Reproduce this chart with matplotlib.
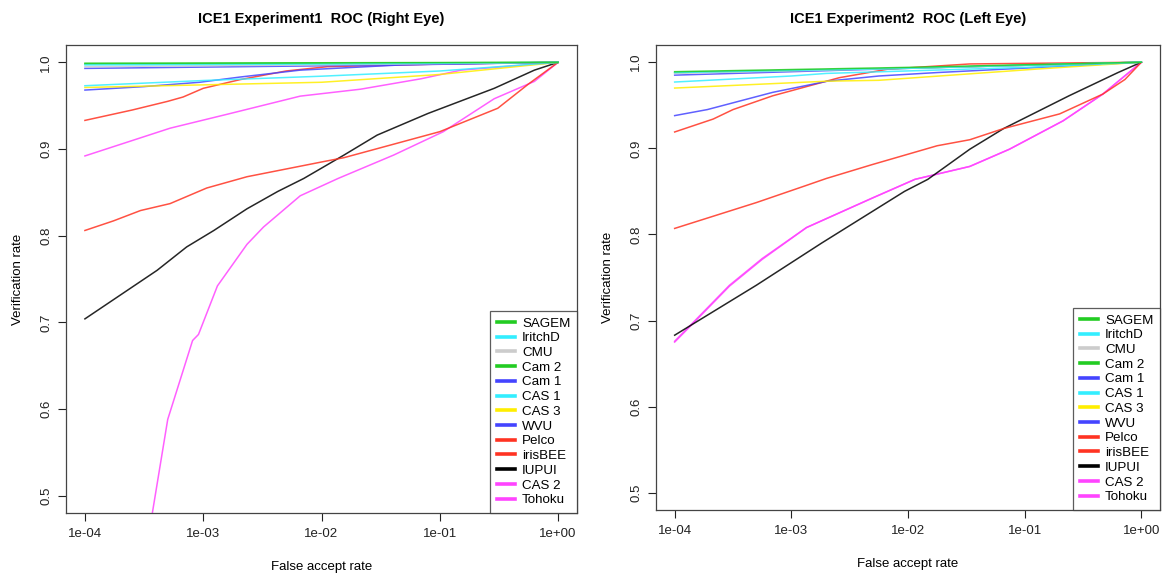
import numpy as np
import matplotlib
matplotlib.use("Agg")
import matplotlib.pyplot as plt
from matplotlib.lines import Line2D

plt.rcParams['font.family'] = ['Liberation Sans', 'DejaVu Sans']

names = ["SAGEM", "IritchD", "CMU", "Cam 2", "Cam 1", "CAS 1", "CAS 3", "WVU",
         "Pelco", "irisBEE", "IUPUI", "CAS 2", "Tohoku"]
colors = ["#22cc22", "#33eeff", "#cccccc", "#22cc22", "#4444ff", "#33eeff", "#ffee00",
          "#4444ff", "#ff3322", "#ff3322", "#000000", "#ff44ff", "#ff44ff"]

# Experiment 1 (Right Eye): log10(FAR) points and verification rates
exp1_logfar = {
    "SAGEM":   [-4, -2, 0],
    "IritchD": [-4, -2, 0],
    "CMU":     [-4, -2, 0],
    "Cam 2":   [-4, -2, 0],
    "Cam 1":   [-4, -2, 0],
    "CAS 1":   [-4, -3, -2, -1, 0],
    "CAS 3":   [-4, -3, -2, -1, 0],
    "WVU":     [-4, -3.5, -3.03, -2.69, -2.18, -1.33, 0],
    "Pelco":   [-4, -3.6, -3.3, -3.17, -3.0, -2.69, -2.3, -1.95, -1, 0],
    "irisBEE": [-4, -3.76, -3.53, -3.28, -2.97, -2.63, -2.0, -1.81, -1.0, -0.51, -0.25, 0],
    "IUPUI":   [-4, -3.39, -3.14, -2.91, -2.63, -2.37, -2.15, -1.81, -1.53, -1.10, -0.54, -0.20, 0],
    "CAS 2":   [-4, -3.28, -2.8, -2.18, -1.67, -1.16, -0.82, 0],
    "Tohoku":  [-4, -3.6, -3.43, -3.30, -3.09, -3.04, -2.88, -2.63, -2.49, -2.18, -1.86, -1.39,
                -0.97, -0.54, -0.20, 0],
}
exp1_vr = {
    "SAGEM":   [0.999, 0.9995, 1.0],
    "IritchD": [0.997, 0.998, 1.0],
    "CMU":     [0.995, 0.997, 1.0],
    "Cam 2":   [0.998, 0.999, 1.0],
    "Cam 1":   [0.993, 0.996, 1.0],
    "CAS 1":   [0.973, 0.979, 0.984, 0.990, 1.0],
    "CAS 3":   [0.971, 0.974, 0.977, 0.986, 1.0],
    "WVU":     [0.968, 0.972, 0.977, 0.983, 0.991, 0.997, 1.0],
    "Pelco":   [0.933, 0.945, 0.955, 0.960, 0.970, 0.980, 0.990, 0.995, 0.998, 1.0],
    "irisBEE": [0.806, 0.817, 0.829, 0.837, 0.855, 0.868, 0.885, 0.890, 0.920, 0.947, 0.975, 1.0],
    "IUPUI":   [0.704, 0.760, 0.787, 0.806, 0.831, 0.851, 0.866, 0.893, 0.916, 0.941, 0.970, 0.991, 1.0],
    "CAS 2":   [0.892, 0.924, 0.940, 0.961, 0.969, 0.981, 0.991, 1.0],
    "Tohoku":  [0.05, 0.33, 0.48, 0.588, 0.679, 0.686, 0.742, 0.790, 0.810, 0.846, 0.866, 0.893,
                0.920, 0.958, 0.978, 1.0],
}

# Experiment 2 (Left Eye)
exp2_logfar = {
    "SAGEM":   [-4, -2, 0],
    "IritchD": [-4, -2, 0],
    "CMU":     [-4, -2, 0],
    "Cam 2":   [-4, -2, 0],
    "Cam 1":   [-4, -2.25, 0],
    "CAS 1":   [-4, -3, -2.7, -1, 0],
    "CAS 3":   [-4, -2.69, -2.25, -0.9, 0],
    "WVU":     [-4, -3.72, -3.16, -2.69, -2.25, -1.75, 0],
    "Pelco":   [-4, -3.67, -3.5, -3.16, -2.59, -2.17, -1.47, 0],
    "irisBEE": [-4, -3.30, -2.87, -2.70, -2.31, -1.75, -1.47, -1.18, -0.70, -0.33, -0.14, 0],
    "IUPUI":   [-4, -3.30, -2.74, -2.03, -1.83, -1.47, -1.18, -0.62, -0.20, 0],
    "CAS 2":   [-4, -3.84, -3.53, -3.25, -2.87, -2.31, -1.94, -1.47, -1.13, -0.67, -0.33, 0],
    "Tohoku":  [-4, -3.84, -3.53, -3.25, -2.87, -2.31, -1.94, -1.47, -1.13, -0.67, -0.33, 0],
}
exp2_vr = {
    "SAGEM":   [0.989, 0.994, 1.0],
    "IritchD": [0.988, 0.993, 1.0],
    "CMU":     [0.987, 0.993, 1.0],
    "Cam 2":   [0.988, 0.993, 1.0],
    "Cam 1":   [0.985, 0.992, 1.0],
    "CAS 1":   [0.977, 0.984, 0.987, 0.994, 1.0],
    "CAS 3":   [0.970, 0.978, 0.979, 0.992, 1.0],
    "WVU":     [0.938, 0.945, 0.965, 0.978, 0.984, 0.988, 1.0],
    "Pelco":   [0.919, 0.934, 0.945, 0.961, 0.982, 0.992, 0.998, 1.0],
    "irisBEE": [0.807, 0.837, 0.857, 0.865, 0.881, 0.903, 0.910, 0.923, 0.940, 0.963, 0.980, 1.0],
    "IUPUI":   [0.683, 0.741, 0.790, 0.850, 0.864, 0.899, 0.923, 0.961, 0.988, 1.0],
    "CAS 2":   [0.675, 0.697, 0.740, 0.771, 0.808, 0.842, 0.864, 0.879, 0.899, 0.932, 0.963, 1.0],
    "Tohoku":  [0.676, 0.698, 0.741, 0.772, 0.808, 0.842, 0.864, 0.879, 0.899, 0.932, 0.963, 1.0],
}

xticks = [1e-4, 1e-3, 1e-2, 1e-1, 1e0]
xticklabels = ["1e-04", "1e-03", "1e-02", "1e-01", "1e+00"]
yticks = [0.5, 0.6, 0.7, 0.8, 0.9, 1.0]
yticklabels = ["0.5", "0.6", "0.7", "0.8", "0.9", "1.0"]
titles = ["ICE1 Experiment1  ROC (Right Eye)", "ICE1 Experiment2  ROC (Left Eye)"]

fig = plt.figure(figsize=(11.67, 5.73), dpi=100)
ax1 = fig.add_axes([66/1167, 1-513/573, 511/1167, 468/573])
ax2 = fig.add_axes([656/1167, 1-510/573, 504/1167, 465/573])

draw_order = list(reversed(names))
for ax, lf, vr, title in [(ax1, exp1_logfar, exp1_vr, titles[0]),
                          (ax2, exp2_logfar, exp2_vr, titles[1])]:
    for nm in draw_order:
        c = colors[names.index(nm)]
        far = np.power(10.0, np.array(lf[nm], dtype=float))
        ax.plot(far, vr[nm], color=c, lw=1.1, alpha=0.85, solid_joinstyle='round')
    ax.set_xscale('log')
    ax.set_xlim(10 ** -4.16, 10 ** 0.16)
    ax.set_ylim(0.48, 1.02)
    ax.set_xticks(xticks)
    ax.set_xticklabels(xticklabels)
    ax.minorticks_off()
    ax.set_yticks(yticks)
    ax.set_yticklabels(yticklabels, rotation=90, va='center')
    ax.tick_params(direction='out', length=5.8, width=0.8, labelsize=9.5, pad=5, colors='#222222')
    ax.tick_params(axis='y', pad=4)
    for s in ax.spines.values():
        s.set_color('#444444')
        s.set_linewidth(0.9)
    ax.set_title(title, fontsize=10.5, fontweight='bold', pad=16)
    ax.set_xlabel("False accept rate", fontsize=9.5, labelpad=15)
    ax.set_ylabel("Verification rate", fontsize=9.5, labelpad=12)
    handles = [Line2D([0], [0], color=colors[i], lw=2.6) for i in range(len(names))]
    leg = ax.legend(handles, names, loc='lower right', borderaxespad=0, fancybox=False,
                    frameon=True, fontsize=9.6, handlelength=1.4, handletextpad=0.5,
                    labelspacing=0.18, borderpad=0.5)
    leg.get_frame().set_edgecolor('#333333')
    leg.get_frame().set_linewidth(0.9)

fig.savefig("out.png", dpi=100)
